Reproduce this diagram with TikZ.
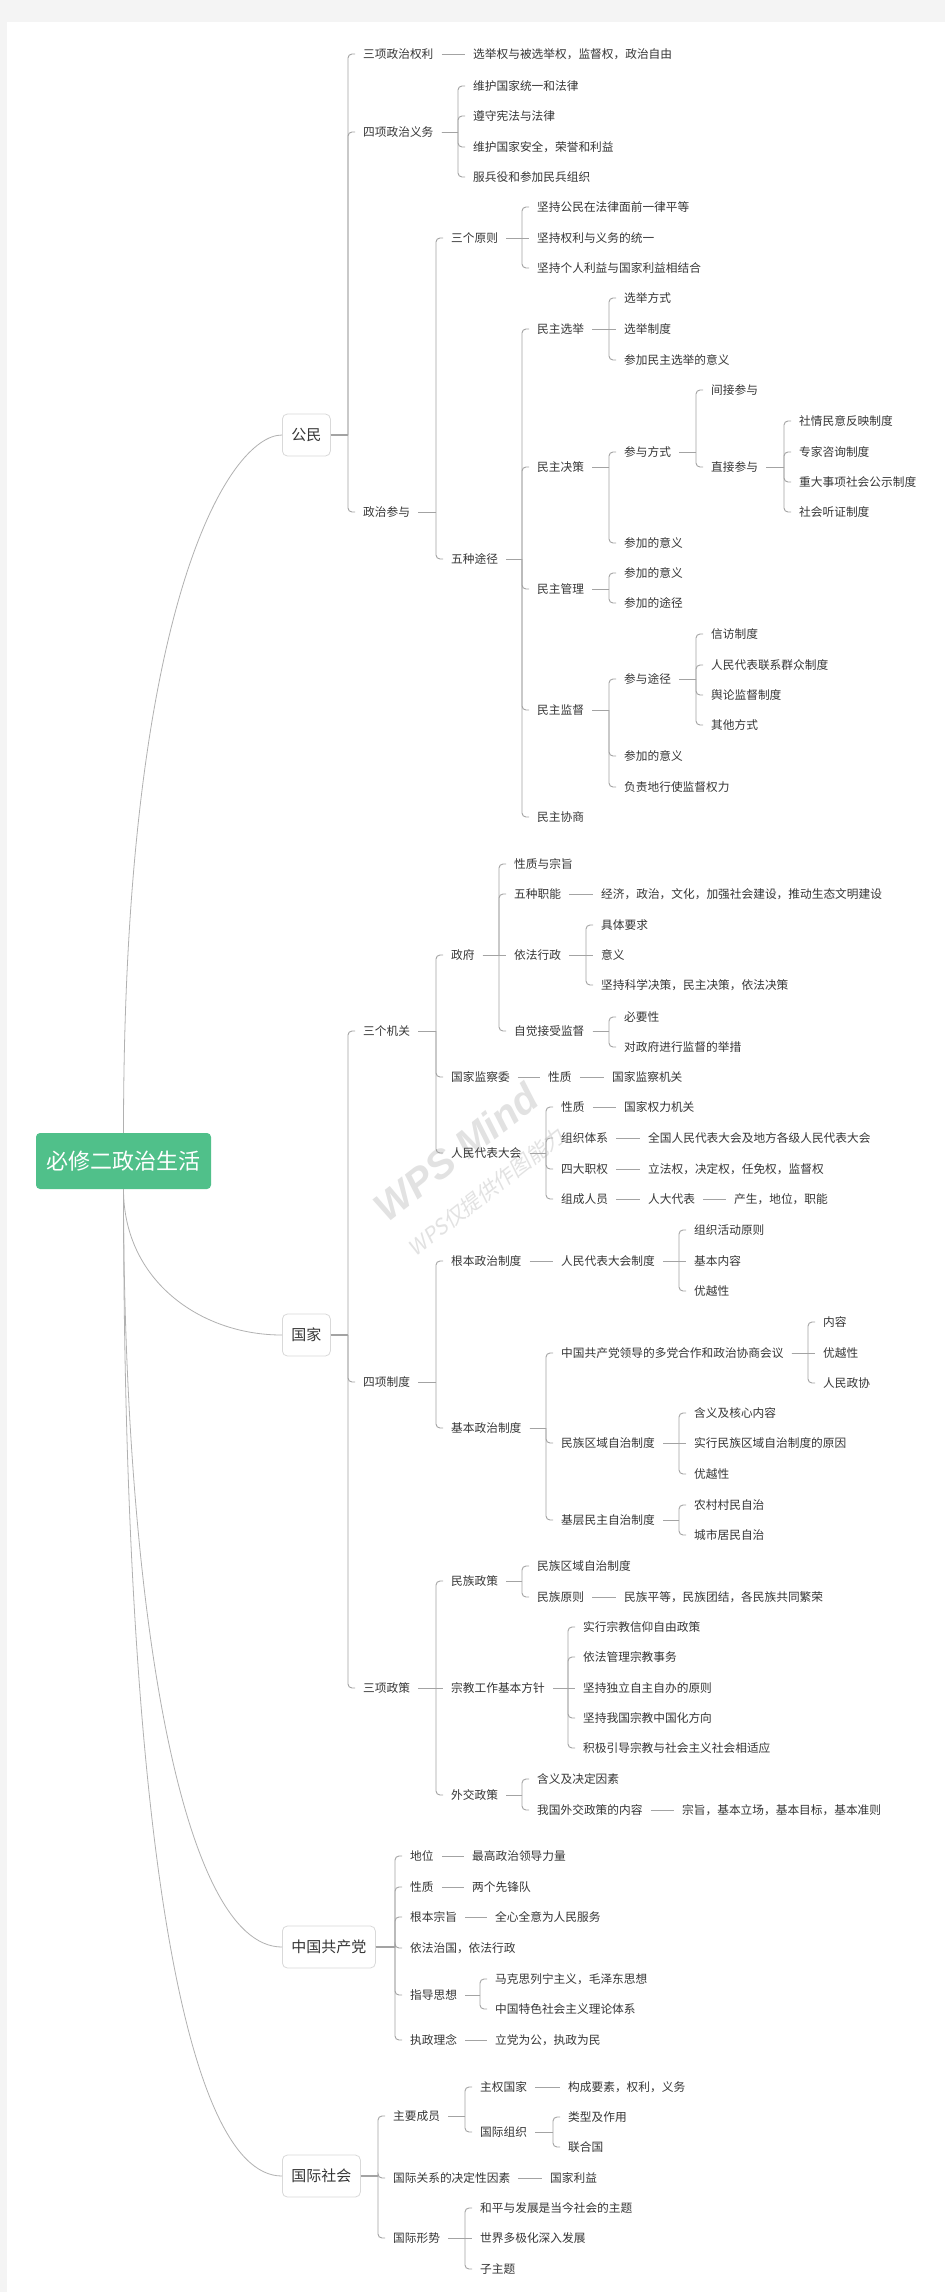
\documentclass[tikz,border=0pt]{standalone}
\usepackage{fontspec}
\setmainfont{Noto Sans CJK SC}
\newfontfamily\wmfont{Liberation Sans}
\newfontfamily\wmcjk[FakeSlant=0.2]{Noto Sans CJK SC}
\usetikzlibrary{positioning}

\definecolor{pagebg}{HTML}{F4F4F4}
\definecolor{ink}{HTML}{363636}
\definecolor{linkgray}{HTML}{A3A3A3}
\definecolor{boxline}{HTML}{D9D9D9}
\definecolor{rootgreen}{HTML}{50C08A}
\definecolor{wmgray}{HTML}{E2E2E2}

\tikzset{
  tx/.style={anchor=west, xshift=-8pt, inner xsep=8pt, inner ysep=2pt, text=ink,
    font=\fontsize{11.7}{14}\selectfont, text height=10.3pt, text depth=1.4pt},
  topic/.style={draw=boxline, fill=white, rounded corners=5pt, anchor=west,
    inner xsep=9pt, minimum height=42pt, text=ink, line width=0.8pt,
    font=\fontsize{15}{18}\selectfont, text height=13.2pt, text depth=1.8pt},
  rootbox/.style={fill=rootgreen, rounded corners=4pt, text=white,
    minimum width=175pt, minimum height=56pt, inner sep=0pt,
    font=\fontsize{22}{26}\selectfont},
  link/.style={draw=linkgray, line width=0.9pt},
  curve/.style={draw=linkgray!85, line width=0.8pt},
  wmark/.style={rotate=38, text=wmgray}
}

\newcommand\fork[3][]{%
  \foreach \c in {#3}{%
    \path (\c.west) ++(-7,0) coordinate (bk);
    \draw[link,#1] (#2.east) -- (bk |- #2.east);
    \pgfextracty{\dimen0}{\pgfpointanchor{#2}{east}}%
    \pgfextracty{\dimen2}{\pgfpointanchor{\c}{west}}%
    \advance\dimen0 by -\dimen2
    \ifdim\dimen0<0pt \dimen0=-\dimen0 \fi
    \ifdim\dimen0<0.5pt
      \draw[link] (bk |- #2.east) -- (\c.west);
    \else
      \draw[link,rounded corners=4pt] (bk |- #2.east) |- (\c.west);
    \fi
  }}

\begin{document}
\begin{tikzpicture}[x=1pt,y=-1pt]
\useasboundingbox (0,0) rectangle (945,2292);
\fill[pagebg] (0,0) rectangle (945,2292);
\fill[white] (7,22) rectangle (945,2292);

\node[wmark, font=\wmfont\bfseries\itshape\fontsize{40}{44}\selectfont] (wm1) at (456,1152) {WPS Mind};
\node[wmark, font=\wmcjk\fontsize{21}{24}\selectfont] (wm2) at (486,1192) {WPS仅提供作图能力};

\node[rootbox] (root) at (123.5,1161) {必修二政治生活};

% 公民
\node[topic] (gm) at (282,435) {公民};
\node[tx] (q1) at (363,54) {三项政治权利};
\node[tx] (q1a) at (473,54) {选举权与被选举权，监督权，政治自由};
\node[tx] (q2) at (363,132) {四项政治义务};
\node[tx] (q2a) at (473,86) {维护国家统一和法律};
\node[tx] (q2b) at (473,116) {遵守宪法与法律};
\node[tx] (q2c) at (473,147) {维护国家安全，荣誉和利益};
\node[tx] (q2d) at (473,177) {服兵役和参加民兵组织};
\node[tx] (q3) at (363,512) {政治参与};
\node[tx] (yz) at (451,238) {三个原则};
\node[tx] (yz1) at (537,207) {坚持公民在法律面前一律平等};
\node[tx] (yz2) at (537,238) {坚持权利与义务的统一};
\node[tx] (yz3) at (537,268) {坚持个人利益与国家利益相结合};
\node[tx] (tj) at (451,559) {五种途径};
\node[tx] (xj) at (537,329) {民主选举};
\node[tx] (xj1) at (624,298) {选举方式};
\node[tx] (xj2) at (624,329) {选举制度};
\node[tx] (xj3) at (624,360) {参加民主选举的意义};
\node[tx] (jc) at (537,467) {民主决策};
\node[tx] (jc1) at (624,452) {参与方式};
\node[tx] (jj) at (711,390) {间接参与};
\node[tx] (zj) at (711,467) {直接参与};
\node[tx] (zj1) at (799,421) {社情民意反映制度};
\node[tx] (zj2) at (799,452) {专家咨询制度};
\node[tx] (zj3) at (799,482) {重大事项社会公示制度};
\node[tx] (zj4) at (799,512) {社会听证制度};
\node[tx] (jc2) at (624,543) {参加的意义};
\node[tx] (gl) at (537,589) {民主管理};
\node[tx] (gl1) at (624,573) {参加的意义};
\node[tx] (gl2) at (624,603) {参加的途径};
\node[tx] (jd) at (537,710) {民主监督};
\node[tx] (jd1) at (624,679) {参与途径};
\node[tx] (jd1a) at (711,634) {信访制度};
\node[tx] (jd1b) at (711,665) {人民代表联系群众制度};
\node[tx] (jd1c) at (711,695) {舆论监督制度};
\node[tx] (jd1d) at (711,725) {其他方式};
\node[tx] (jd2) at (624,756) {参加的意义};
\node[tx] (jd3) at (624,787) {负责地行使监督权力};
\node[tx] (xs) at (537,817) {民主协商};

\fork[line width=2.2pt]{gm}{q1,q2,q3}
\fork{q1}{q1a}
\fork{q2}{q2a,q2b,q2c,q2d}
\fork{q3}{yz,tj}
\fork{yz}{yz1,yz2,yz3}
\fork{tj}{xj,jc,gl,jd,xs}
\fork{xj}{xj1,xj2,xj3}
\fork{jc}{jc1,jc2}
\fork{jc1}{jj,zj}
\fork{zj}{zj1,zj2,zj3,zj4}
\fork{gl}{gl1,gl2}
\fork{jd}{jd1,jd2,jd3}
\fork{jd1}{jd1a,jd1b,jd1c,jd1d}

% 国家
\node[topic] (gj) at (282,1335) {国家};
\node[tx] (jg) at (363,1031) {三个机关};
\node[tx] (zf) at (451,955) {政府};
\node[tx] (zf1) at (514,864) {性质与宗旨};
\node[tx] (zf2) at (514,894) {五种职能};
\node[tx] (zf2a) at (601,894) {经济，政治，文化，加强社会建设，推动生态文明建设};
\node[tx] (zf3) at (514,955) {依法行政};
\node[tx] (zf3a) at (601,925) {具体要求};
\node[tx] (zf3b) at (601,955) {意义};
\node[tx] (zf3c) at (601,985) {坚持科学决策，民主决策，依法决策};
\node[tx] (zf4) at (514,1031) {自觉接受监督};
\node[tx] (zf4a) at (624,1017) {必要性};
\node[tx] (zf4b) at (624,1047) {对政府进行监督的举措};
\node[tx] (jcw) at (451,1077) {国家监察委};
\node[tx] (jcw1) at (548,1077) {性质};
\node[tx] (jcw2) at (612,1077) {国家监察机关};
\node[tx] (rd) at (451,1153) {人民代表大会};
\node[tx] (rd1) at (561,1107) {性质};
\node[tx] (rd1a) at (624,1107) {国家权力机关};
\node[tx] (rd2) at (561,1138) {组织体系};
\node[tx] (rd2a) at (648,1138) {全国人民代表大会及地方各级人民代表大会};
\node[tx] (rd3) at (561,1169) {四大职权};
\node[tx] (rd3a) at (648,1169) {立法权，决定权，任免权，监督权};
\node[tx] (rd4) at (561,1199) {组成人员};
\node[tx] (rd4a) at (648,1199) {人大代表};
\node[tx] (rd4b) at (734,1199) {产生，地位，职能};

\node[tx] (zd) at (363,1382) {四项制度};
\node[tx] (gb) at (451,1261) {根本政治制度};
\node[tx] (gb1) at (561,1261) {人民代表大会制度};
\node[tx] (gb1a) at (694,1230) {组织活动原则};
\node[tx] (gb1b) at (694,1261) {基本内容};
\node[tx] (gb1c) at (694,1291) {优越性};
\node[tx] (jb) at (451,1428) {基本政治制度};
\node[tx] (dd) at (561,1353) {中国共产党领导的多党合作和政治协商会议};
\node[tx] (dd1) at (823,1322) {内容};
\node[tx] (dd2) at (823,1353) {优越性};
\node[tx] (dd3) at (823,1383) {人民政协};
\node[tx] (mz) at (561,1443) {民族区域自治制度};
\node[tx] (mz1) at (694,1413) {含义及核心内容};
\node[tx] (mz2) at (694,1443) {实行民族区域自治制度的原因};
\node[tx] (mz3) at (694,1474) {优越性};
\node[tx] (jz) at (561,1520) {基层民主自治制度};
\node[tx] (jz1) at (694,1505) {农村村民自治};
\node[tx] (jz2) at (694,1535) {城市居民自治};

\node[tx] (zc) at (363,1688) {三项政策};
\node[tx] (mzz) at (451,1581) {民族政策};
\node[tx] (mzz1) at (537,1566) {民族区域自治制度};
\node[tx] (mzz2) at (537,1597) {民族原则};
\node[tx] (mzz2a) at (624,1597) {民族平等，民族团结，各民族共同繁荣};
\node[tx] (zjf) at (451,1688) {宗教工作基本方针};
\node[tx] (zjf1) at (583,1627) {实行宗教信仰自由政策};
\node[tx] (zjf2) at (583,1657) {依法管理宗教事务};
\node[tx] (zjf3) at (583,1688) {坚持独立自主自办的原则};
\node[tx] (zjf4) at (583,1718) {坚持我国宗教中国化方向};
\node[tx] (zjf5) at (583,1748) {积极引导宗教与社会主义社会相适应};
\node[tx] (wj) at (451,1795) {外交政策};
\node[tx] (wj1) at (537,1779) {含义及决定因素};
\node[tx] (wj2) at (537,1810) {我国外交政策的内容};
\node[tx] (wj2a) at (682,1810) {宗旨，基本立场，基本目标，基本准则};

\fork[line width=2.2pt]{gj}{jg,zd,zc}
\fork{jg}{zf,jcw,rd}
\fork{zf}{zf1,zf2,zf3,zf4}
\fork{zf2}{zf2a}
\fork{zf3}{zf3a,zf3b,zf3c}
\fork{zf4}{zf4a,zf4b}
\fork{jcw}{jcw1}
\fork{jcw1}{jcw2}
\fork{rd}{rd1,rd2,rd3,rd4}
\fork{rd1}{rd1a}
\fork{rd2}{rd2a}
\fork{rd3}{rd3a}
\fork{rd4}{rd4a}
\fork{rd4a}{rd4b}
\fork{zd}{gb,jb}
\fork{gb}{gb1}
\fork{gb1}{gb1a,gb1b,gb1c}
\fork{jb}{dd,mz,jz}
\fork{dd}{dd1,dd2,dd3}
\fork{mz}{mz1,mz2,mz3}
\fork{jz}{jz1,jz2}
\fork{zc}{mzz,zjf,wj}
\fork{mzz}{mzz1,mzz2}
\fork{mzz2}{mzz2a}
\fork{zjf}{zjf1,zjf2,zjf3,zjf4,zjf5}
\fork{wj}{wj1,wj2}
\fork{wj2}{wj2a}

% 中国共产党
\node[topic] (gcd) at (282,1947) {中国共产党};
\node[tx] (dw) at (410,1856) {地位};
\node[tx] (dw1) at (472,1856) {最高政治领导力量};
\node[tx] (xz) at (410,1887) {性质};
\node[tx] (xz1) at (472,1887) {两个先锋队};
\node[tx] (zz) at (410,1917) {根本宗旨};
\node[tx] (zz1) at (495,1917) {全心全意为人民服务};
\node[tx] (yf) at (410,1948) {依法治国，依法行政};
\node[tx] (sx) at (410,1995) {指导思想};
\node[tx] (sx1) at (495,1979) {马克思列宁主义，毛泽东思想};
\node[tx] (sx2) at (495,2009) {中国特色社会主义理论体系};
\node[tx] (ln) at (410,2040) {执政理念};
\node[tx] (ln1) at (495,2040) {立党为公，执政为民};

\fork[line width=2.2pt]{gcd}{dw,xz,zz,yf,sx,ln}
\fork{dw}{dw1}
\fork{xz}{xz1}
\fork{zz}{zz1}
\fork{sx}{sx1,sx2}
\fork{ln}{ln1}

% 国际社会
\node[topic] (gs) at (282,2176) {国际社会};
\node[tx] (cy) at (393,2116) {主要成员};
\node[tx] (cy1) at (480,2087) {主权国家};
\node[tx] (cy1a) at (568,2087) {构成要素，权利，义务};
\node[tx] (cy2) at (480,2132) {国际组织};
\node[tx] (cy2a) at (568,2117) {类型及作用};
\node[tx] (cy2b) at (568,2147) {联合国};
\node[tx] (gx) at (393,2178) {国际关系的决定性因素};
\node[tx] (gx1) at (550,2178) {国家利益};
\node[tx] (xsh) at (393,2238) {国际形势};
\node[tx] (xsh1) at (480,2208) {和平与发展是当今社会的主题};
\node[tx] (xsh2) at (480,2238) {世界多极化深入发展};
\node[tx] (xsh3) at (480,2269) {子主题};

\fork[line width=2.2pt]{gs}{cy,gx,xsh}
\fork{cy}{cy1,cy2}
\fork{cy1}{cy1a}
\fork{cy2}{cy2a,cy2b}
\fork{gx}{gx1}
\fork{xsh}{xsh1,xsh2,xsh3}

\draw[curve] (root.north) .. controls +(0,-533) and +(-52,0) .. (gm.west);
\draw[curve] (root.south) .. controls +(0,91) and +(-82,0) .. (gj.west);
\draw[curve] (root.south) .. controls +(0,411) and +(-102,0) .. (gcd.west);
\draw[curve] (root.south) .. controls +(0,611) and +(-102,0) .. (gs.west);
\end{tikzpicture}
\end{document}
